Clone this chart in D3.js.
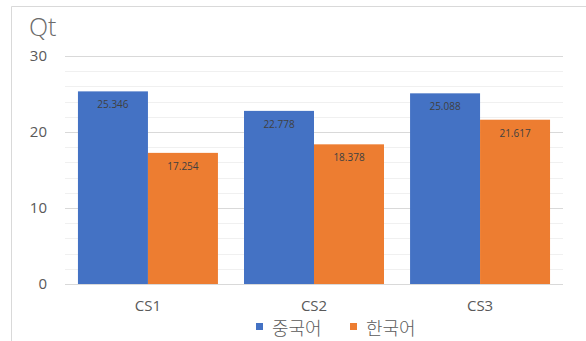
<!DOCTYPE html>
<html>
<head>
<meta charset="utf-8">
<script src="https://cdn.jsdelivr.net/npm/d3@7"></script>
<style>
  html, body { margin: 0; padding: 0; background: #ffffff; }
  svg { display: block; font-family: "Open Sans", "Noto Sans CJK KR", sans-serif; }
</style>
</head>
<body>
<svg id="chart" width="586" height="341"></svg>
<script>
// Data
const categories = ["CS1", "CS2", "CS3"];
const seriesNames = ["중국어", "한국어"];
const chineseValues = [25.346, 22.778, 25.088];
const koreanValues = [17.254, 18.378, 21.617];
const yTicks = [0, 10, 20, 30];
const yMinorTicks = [2, 4, 6, 8, 12, 14, 16, 18, 22, 24, 26, 28];
const colors = ["#4472c4", "#ed7d31"];

const rows = categories.map((c, i) => ({
  cat: c,
  values: [
    { key: seriesNames[0], value: chineseValues[i] },
    { key: seriesNames[1], value: koreanValues[i] }
  ]
}));

const svg = d3.select("#chart");
const W = 586, H = 341;
const plot = { left: 65, right: 563, top: 56, bottom: 284 };

// Chart frame (left and top edges)
svg.append("path")
  .attr("d", `M11.5,${H} V6.5 H${W}`)
  .attr("fill", "none")
  .attr("stroke", "#d9d9d9")
  .attr("stroke-width", 1);

const y = d3.scaleLinear().domain([0, 30]).range([plot.bottom, plot.top]);
const x0 = d3.scaleBand().domain(categories).range([plot.left, plot.right])
  .paddingInner(0.157).paddingOuter(0.078);
const x1 = d3.scaleBand().domain(seriesNames).range([0, x0.bandwidth()]);
const color = d3.scaleOrdinal().domain(seriesNames).range(colors);

// Minor gridlines
svg.append("g").selectAll("line").data(yMinorTicks).join("line")
  .attr("x1", plot.left).attr("x2", plot.right)
  .attr("y1", d => Math.round(y(d)) + 0.5).attr("y2", d => Math.round(y(d)) + 0.5)
  .attr("stroke", "#f0f0f0").attr("stroke-width", 1);

// Major gridlines
svg.append("g").selectAll("line").data(yTicks).join("line")
  .attr("x1", plot.left).attr("x2", plot.right)
  .attr("y1", d => Math.round(y(d)) + 0.5).attr("y2", d => Math.round(y(d)) + 0.5)
  .attr("stroke", "#d9d9d9").attr("stroke-width", 1);

// Y axis labels
const yAxis = d3.axisLeft(y).tickValues(yTicks).tickSize(0).tickPadding(0);
const gy = svg.append("g").attr("transform", `translate(47,0)`).call(yAxis);
gy.select(".domain").remove();
gy.selectAll("text").attr("font-size", 15).attr("fill", "#595959")
  .attr("font-family", "Open Sans, sans-serif");

// Y axis title
svg.append("text").attr("x", 29).attr("y", 36)
  .attr("font-size", 25).attr("font-weight", 300).attr("fill", "#6b6b6b")
  .attr("font-family", "Open Sans, sans-serif").text("Qt");

// Bars
const groups = svg.append("g").selectAll("g").data(rows).join("g")
  .attr("transform", d => `translate(${x0(d.cat)},0)`);

groups.selectAll("rect").data(d => d.values).join("rect")
  .attr("x", d => x1(d.key))
  .attr("y", d => y(d.value))
  .attr("width", x1.bandwidth())
  .attr("height", d => y(0) - y(d.value))
  .attr("fill", d => color(d.key));

// Value labels
groups.selectAll("text.val").data(d => d.values).join("text")
  .attr("class", "val")
  .attr("x", d => x1(d.key) + x1.bandwidth() / 2)
  .attr("y", d => y(d.value) + 17)
  .attr("text-anchor", "middle")
  .attr("font-size", 10)
  .attr("fill", "#404040")
  .text(d => d.value.toFixed(3));

// X axis labels
const xAxis = d3.axisBottom(x0).tickSize(0).tickPadding(0);
const gx = svg.append("g").attr("transform", `translate(0,${plot.bottom + 16})`).call(xAxis);
gx.select(".domain").remove();
gx.selectAll("text").attr("font-size", 15).attr("fill", "#595959")
  .attr("font-family", "Open Sans, sans-serif");

// Legend
const legendX = [256, 350];
const legend = svg.append("g").selectAll("g").data(seriesNames).join("g")
  .attr("transform", (d, i) => `translate(${legendX[i]},323)`);
legend.append("rect").attr("width", 7).attr("height", 7).attr("fill", d => color(d));
legend.append("text").attr("x", 16).attr("y", 12)
  .attr("font-size", 18).attr("font-weight", 300).attr("fill", "#595959")
  .attr("font-family", "Noto Sans CJK KR, sans-serif")
  .text(d => d);
</script>
</body>
</html>
